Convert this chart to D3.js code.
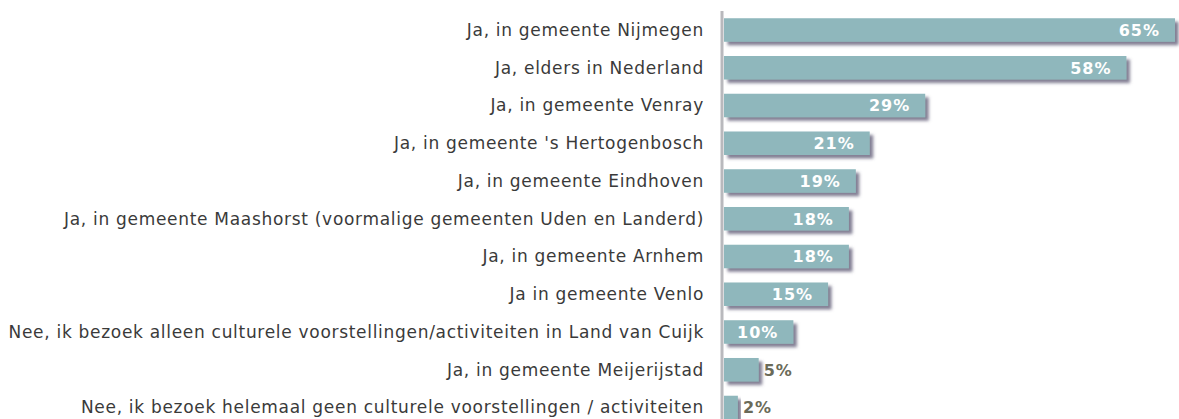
<!DOCTYPE html>
<html>
<head>
<meta charset="utf-8">
<script src="https://cdn.jsdelivr.net/npm/d3@7"></script>
<style>
  body { margin: 0; background: #fff; }
  svg { display: block; }
</style>
</head>
<body>
<div id="chart"></div>
<script>
const categories = [
    "Ja, in gemeente Nijmegen",
    "Ja, elders in Nederland",
    "Ja, in gemeente Venray",
    "Ja, in gemeente 's Hertogenbosch",
    "Ja, in gemeente Eindhoven",
    "Ja, in gemeente Maashorst (voormalige gemeenten Uden en Landerd)",
    "Ja, in gemeente Arnhem",
    "Ja in gemeente Venlo",
    "Nee, ik bezoek alleen culturele voorstellingen/activiteiten in Land van Cuijk",
    "Ja, in gemeente Meijerijstad",
    "Nee, ik bezoek helemaal geen culturele voorstellingen / activiteiten"
];
const values = [65, 58, 29, 21, 19, 18, 18, 15, 10, 5, 2];

let width = 1179,
    height = 419;

let svg = d3.select("#chart").append("svg")
    .attr("width", width)
    .attr("height", height);

// soft purple-grey drop shadow under each bar
let defs = svg.append("defs");
let filter = defs.append("filter")
    .attr("id", "shadow")
    .attr("x", "-10%").attr("y", "-30%")
    .attr("width", "130%").attr("height", "180%");
filter.append("feDropShadow")
    .attr("dx", 3.5)
    .attr("dy", 3.5)
    .attr("stdDeviation", 1.8)
    .attr("flood-color", "#5a5470")
    .attr("flood-opacity", 0.75);

let x0 = 724;
let x = d3.scaleLinear()
    .domain([0, 65])
    .range([x0, 1175]);

let y = d3.scaleBand()
    .domain(categories)
    .range([10.7, 426.8])
    .paddingInner(0.377)
    .paddingOuter(0.2);

// bars
svg.append("g")
    .selectAll("rect")
    .data(values)
    .enter().append("rect")
    .attr("x", x0)
    .attr("y", (d, i) => y(categories[i]))
    .attr("width", d => x(d) - x0)
    .attr("height", y.bandwidth())
    .attr("fill", "#8fb7bc")
    .attr("filter", "url(#shadow)");

// axis line
svg.append("line")
    .attr("x1", 722).attr("x2", 722)
    .attr("y1", 11).attr("y2", height)
    .attr("stroke", "#b9b9bd")
    .attr("stroke-width", 3);

// category labels
svg.append("g")
    .selectAll("text")
    .data(categories)
    .enter().append("text")
    .attr("x", 704)
    .attr("y", d => y(d) + y.bandwidth() / 2)
    .attr("dy", "0.35em")
    .attr("text-anchor", "end")
    .attr("font-family", "'DejaVu Sans', sans-serif")
    .attr("font-size", "17px")
    .attr("letter-spacing", "0.7px")
    .attr("fill", "#3a3a3a")
    .text(d => d);

// value labels, inside the bar when it's long enough
svg.append("g")
    .selectAll("text")
    .data(values)
    .enter().append("text")
    .attr("x", d => d >= 10 ? x(d) - 15 : x(d) + 5)
    .attr("y", (d, i) => y(categories[i]) + y.bandwidth() / 2)
    .attr("dy", "0.36em")
    .attr("text-anchor", d => d >= 10 ? "end" : "start")
    .attr("font-family", "'DejaVu Sans', sans-serif")
    .attr("font-weight", "bold")
    .attr("font-size", "16px")
    .attr("letter-spacing", "1px")
    .attr("fill", d => d >= 10 ? "#ffffff" : "#6a6a58")
    .text(d => d + "%");
</script>
</body>
</html>
